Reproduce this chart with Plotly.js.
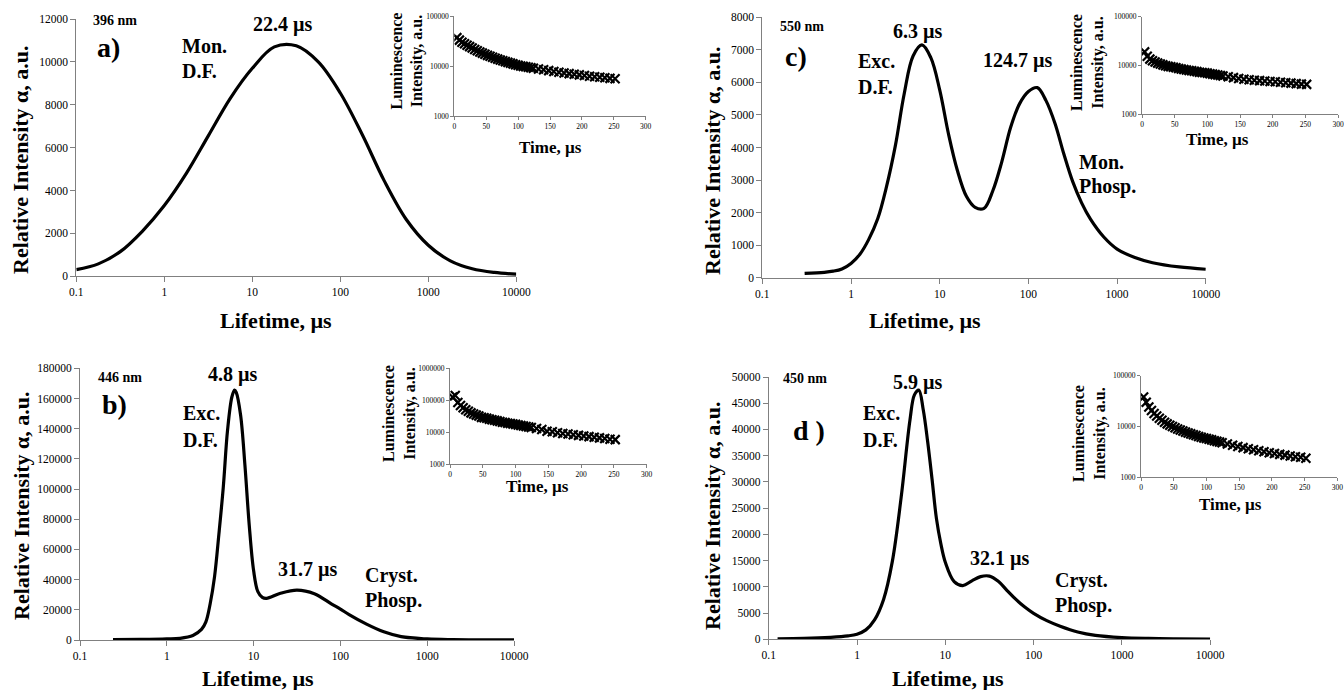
<!DOCTYPE html>
<html>
<head>
<meta charset="utf-8">
<script src="https://cdn.plot.ly/plotly-3.0.1.min.js"></script>
<style>
html,body{margin:0;padding:0;background:#fff;}
#chart{width:1344px;height:690px;}
</style>
</head>
<body>
<div id="chart"></div>
<script>
// ---------- data ----------
const lifetimeA = [0.1,0.178,0.316,0.562,1,1.78,3.16,5.62,10,17.8,31.6,56.2,100,178,316,562,1000,1780,3160,5620,10000];
const intensityA = [310,580,1150,2100,3300,4800,6550,8300,9700,10700,10750,10000,8550,6600,4450,2650,1450,720,350,180,100];

const lifetimeB = [0.24,0.5,1,1.41,2.0,2.51,2.82,3.16,3.55,3.98,4.47,5.01,5.62,6.03,6.31,7.08,7.94,8.91,10,11.2,12.6,14.1,20,31.6,50.1,79.4,100,126,200,316,501,1000,2000,10000];
const intensityB = [200,350,700,1100,3000,7000,12000,24000,42000,70000,101000,139000,161000,165500,164000,149000,116000,76000,46000,32000,28200,27600,30800,33100,30700,23800,20500,16800,10500,5400,2200,700,250,30];

const lifetimeC = [0.3,0.5,0.63,0.79,1,1.26,1.58,2,2.51,3.16,3.98,5.01,6.31,7.94,10,12.6,15.8,20,25.1,31.6,39.8,50.1,63.1,79.4,100,126,158,200,251,316,398,501,708,1000,1585,2512,5012,10000];
const intensityC = [130,165,200,270,440,720,1170,1810,2790,4050,5650,6810,7150,6760,5770,4400,3300,2500,2160,2130,2680,3560,4620,5340,5720,5840,5440,4730,3800,2950,2300,1800,1250,880,620,460,330,260];

const lifetimeD = [0.126,0.25,0.5,0.79,1,1.26,1.58,2,2.51,3.16,3.98,4.47,5.01,5.62,6.31,7.08,7.94,8.91,10,12.6,15.8,20,25.1,31.6,39.8,50.1,63.1,79.4,100,141,200,316,501,1000,2000,3981,10000];
const intensityD = [100,170,380,650,980,1800,3700,7600,14800,27000,41800,46600,47500,43800,37700,30500,23000,18200,14700,11000,10250,11150,11950,12050,11050,9300,7600,6150,4950,3560,2500,1400,750,330,160,90,50];

const decayTime = [4,8,12,16,20,24,28,32,36,40,44,48,52,56,60,64,68,72,76,80,84,88,92,96,100,104,108,112,116,120,124,
                   132,140,148,156,164,172,180,188,196,204,212,220,228,236,244,252];
const decayA = [37000,33000,30000,28000,26000,24500,23000,21500,20300,19200,18200,17200,16400,15700,15000,14400,13800,13300,12800,12300,11900,11500,11100,10700,10400,10100,9900,9700,9500,9300,9100,
                8750,8450,8150,7850,7550,7300,7100,6900,6700,6500,6300,6150,6000,5850,5700,5600];
const decayB = [125000,140000,85000,68000,58000,50000,45000,40000,37000,34000,32000,29000,28000,27000,25500,24500,23500,22500,21500,20500,20000,19000,18500,18000,17500,16800,16200,15600,15000,14500,14000,
                13000,12000,10600,10200,9600,9100,8700,8300,7900,7500,7200,6900,6600,6300,6000,5800];
const decayC = [19000,15500,13500,12500,11800,11200,10700,10300,9900,9600,9400,9200,9000,8700,8500,8300,8100,7900,7800,7600,7500,7300,7200,7100,6970,6800,6650,6500,6400,6250,6100,
                5900,5650,5400,5250,5100,5000,4900,4800,4700,4650,4550,4450,4350,4250,4150,4100];
const decayD = [38000,30000,24000,20500,18000,16000,14500,13200,12000,11200,10500,9900,9400,8900,8500,8100,7700,7400,7100,6800,6600,6300,6100,5900,5750,5550,5400,5200,5050,4900,4750,
                4500,4250,4000,3800,3600,3450,3300,3150,3000,2900,2800,2700,2600,2500,2450,2350];

const lifetimeTicks = [0.1,1,10,100,1000,10000];
const lifetimeTickText = ["0.1","1","10","100","1000","10000"];
const decayTicks3 = [1000,10000,100000];
const decayTickText3 = ["1000","10000","100000"];
const decayTicks4 = [1000,10000,100000,1000000];
const decayTickText4 = ["1000","10000","100000","1000000"];

// ---------- layout helpers ----------
const W = 1344, H = 690;
const SERIF = "Liberation Serif, Times New Roman, serif";
function xd(l, r){ return [l / W, r / W]; }
function yd(top, bottom){ return [1 - bottom / H, 1 - top / H]; }

const lineCol = '#808080';
const mainTickFont = {family: SERIF, size: 11.5, color: 'black'};
const insetTickFont = {family: SERIF, size: 7.5, color: 'black'};

function mainX(dom, anchor){
  return {domain: dom, anchor: anchor, type: 'log', range: [-1, 4],
    tickvals: lifetimeTicks, ticktext: lifetimeTickText,
    showgrid: false, zeroline: false, showline: true, linecolor: lineCol, linewidth: 1,
    ticks: 'outside', ticklen: 5, tickcolor: lineCol, tickfont: mainTickFont, fixedrange: true};
}
function mainY(dom, anchor, max, step){
  return {domain: dom, anchor: anchor, range: [0, max], dtick: step, tickformat: 'd',
    showgrid: false, zeroline: false, showline: true, linecolor: lineCol, linewidth: 1,
    ticks: 'outside', ticklen: 5, tickcolor: lineCol, tickfont: mainTickFont, fixedrange: true};
}
function insetX(dom, anchor){
  return {domain: dom, anchor: anchor, range: [0, 300], dtick: 50,
    showgrid: false, zeroline: false, showline: true, linecolor: lineCol, linewidth: 1,
    ticks: 'outside', ticklen: 3, tickcolor: lineCol, tickfont: insetTickFont, fixedrange: true};
}
function insetY(dom, anchor, top, vals, txt){
  return {domain: dom, anchor: anchor, type: 'log', range: [3, top],
    tickvals: vals, ticktext: txt,
    showgrid: false, zeroline: false, showline: true, linecolor: lineCol, linewidth: 1,
    ticks: 'outside', ticklen: 3, tickcolor: lineCol, tickfont: insetTickFont, fixedrange: true};
}

function curve(x, y, xa, ya){
  return {x: x, y: y, xaxis: xa, yaxis: ya, type: 'scatter', mode: 'lines',
    line: {color: 'black', width: 3.2, shape: 'spline', smoothing: 1}, hoverinfo: 'skip', showlegend: false};
}
function decay(x, y, xa, ya){
  return {x: x, y: y, xaxis: xa, yaxis: ya, type: 'scatter', mode: 'markers',
    marker: {symbol: 'x-thin-open', size: 9, color: 'black', line: {width: 2.2, color: 'black'}},
    hoverinfo: 'skip', showlegend: false};
}

function ann(text, px, py, size, extra){
  return Object.assign({xref: 'paper', yref: 'paper', x: px / W, y: 1 - py / H, text: text,
    showarrow: false, xanchor: 'center', yanchor: 'middle',
    font: {family: SERIF, size: size, color: 'black', weight: 'bold'}}, extra || {});
}
function annL(text, px, py, size){ return ann(text, px, py, size, {xanchor: 'left', align: 'left'}); }
function annV(text, px, py, size){ return ann(text, px, py, size, {textangle: -90}); }

const traces = [
  curve(lifetimeA, intensityA, 'x', 'y'),
  decay(decayTime, decayA, 'x2', 'y2'),
  curve(lifetimeB, intensityB, 'x3', 'y3'),
  decay(decayTime, decayB, 'x4', 'y4'),
  curve(lifetimeC, intensityC, 'x5', 'y5'),
  decay(decayTime, decayC, 'x6', 'y6'),
  curve(lifetimeD, intensityD, 'x7', 'y7'),
  decay(decayTime, decayD, 'x8', 'y8')
];

const annotations = [
  // panel a
  annV('Relative Intensity α, a.u.', 20, 160, 22),
  ann('Lifetime, µs', 276, 320, 22),
  ann('396 nm', 115, 20, 14),
  ann('a)', 108, 47, 28),
  ann('22.4 µs', 283, 24, 20),
  annL('Mon.', 180, 46, 20),
  annL('D.F.', 180, 71, 20),
  annV('Luminescence<br>Intensity, a.u.', 407.5, 61, 16),
  ann('Time, µs', 550, 147, 17),
  // panel b
  annV('Relative Intensity α, a.u.', 22, 506, 22),
  ann('Lifetime, µs', 258, 678, 22),
  ann('446 nm', 120, 377.5, 14),
  ann('b)', 114, 404, 28),
  ann('4.8 µs', 233, 374, 20),
  annL('Exc.', 181, 413, 20),
  annL('D.F.', 181, 440, 20),
  ann('31.7 µs', 308, 569, 20),
  annL('Cryst.', 362.7, 575, 20),
  annL('Phosp.', 362.7, 600, 20),
  annV('Luminescence<br>Intensity, a.u.', 399, 414, 16),
  ann('Time, µs', 537, 486, 17),
  // panel c
  annV('Relative Intensity α, a.u.', 712, 161, 22),
  ann('Lifetime, µs', 925, 320, 22),
  ann('550 nm', 801.7, 26.7, 14),
  ann('c)', 795.5, 56.7, 28),
  ann('6.3 µs', 918, 31, 20),
  annL('Exc.', 855.7, 60.7, 20),
  annL('D.F.', 855.7, 87.3, 20),
  ann('124.7 µs', 1018, 61, 20),
  annL('Mon.', 1076.7, 161.7, 20),
  annL('Phosp.', 1076.7, 186.7, 20),
  annV('Luminescence<br>Intensity, a.u.', 1087, 63, 16),
  ann('Time, µs', 1217, 139, 17),
  // panel d
  annV('Relative Intensity α, a.u.', 712, 516, 22),
  ann('Lifetime, µs', 947.5, 678, 22),
  ann('450 nm', 805.5, 378.3, 14),
  ann('d )', 809, 430, 28),
  ann('5.9 µs', 918, 382.5, 20),
  annL('Exc.', 861, 413.3, 20),
  annL('D.F.', 861, 440, 20),
  ann('32.1 µs', 1000, 558, 20),
  annL('Cryst.', 1052.7, 580, 20),
  annL('Phosp.', 1052.7, 605, 20),
  annV('Luminescence<br>Intensity, a.u.', 1089, 434, 16),
  ann('Time, µs', 1230, 504, 17)
];

const layout = {
  width: W, height: H,
  margin: {l: 0, r: 0, t: 0, b: 0, pad: 0},
  paper_bgcolor: 'white', plot_bgcolor: 'rgba(0,0,0,0)',
  showlegend: false,
  font: {family: SERIF, color: 'black'},
  xaxis:  mainX(xd(76.3, 516.3), 'y'),
  yaxis:  mainY(yd(19, 276.3), 'x', 12000, 2000),
  xaxis2: insetX(xd(454.3, 645.7), 'y2'),
  yaxis2: insetY(yd(16, 116.3), 'x2', 5, decayTicks3, decayTickText3),
  xaxis3: mainX(xd(80, 514), 'y3'),
  yaxis3: mainY(yd(368.3, 640), 'x3', 180000, 20000),
  xaxis4: insetX(xd(450, 646.7), 'y4'),
  yaxis4: insetY(yd(368.3, 464), 'x4', 6, decayTicks4, decayTickText4),
  xaxis5: mainX(xd(762.3, 1205.8), 'y5'),
  yaxis5: mainY(yd(17.3, 277.7), 'x5', 8000, 1000),
  xaxis6: insetX(xd(1142, 1338), 'y6'),
  yaxis6: insetY(yd(16.7, 114.3), 'x6', 5, decayTicks3, decayTickText3),
  xaxis7: mainX(xd(768.7, 1210.2), 'y7'),
  yaxis7: mainY(yd(377, 639.3), 'x7', 50000, 5000),
  xaxis8: insetX(xd(1141, 1337.3), 'y8'),
  yaxis8: insetY(yd(375.7, 477), 'x8', 5, decayTicks3, decayTickText3),
  annotations: annotations
};

Plotly.newPlot('chart', traces, layout, {displayModeBar: false, staticPlot: true});
</script>
</body>
</html>
